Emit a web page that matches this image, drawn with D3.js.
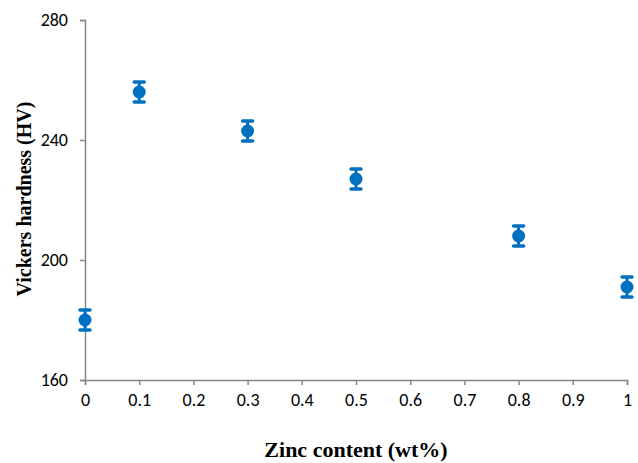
<!DOCTYPE html>
<html>
<head>
<meta charset="utf-8">
<script src="https://cdn.jsdelivr.net/npm/d3@7"></script>
<style>
  body { margin: 0; background: #fff; }
  svg { display: block; }
</style>
</head>
<body>
<div id="chart"></div>
<script>
// ── Data ──────────────────────────────────────────────────────────────────
const zinc     = [0, 0.1, 0.3, 0.5, 0.8, 1];
const hardness = [180, 256, 243, 227, 208, 191];
const errors   = [3.3, 3.3, 3.3, 3.3, 3.3, 3.3];
const xTicks   = [0, 0.1, 0.2, 0.3, 0.4, 0.5, 0.6, 0.7, 0.8, 0.9, 1];
const yTicks   = [160, 200, 240, 280];

const W = 638, H = 463;
const M = { top: 20, right: 11, bottom: 83, left: 85 };
const iw = W - M.left - M.right;
const ih = H - M.top - M.bottom;
const BLUE = '#0070C0';
const AXIS = '#868686';

const x = d3.scaleLinear().domain([0, 1]).range([0, iw]);
const y = d3.scaleLinear().domain([160, 280]).range([ih, 0]);

const svg = d3.select('#chart').append('svg').attr('width', W).attr('height', H);
const g = svg.append('g').attr('transform', `translate(${M.left},${M.top})`);

// ── Axes ──────────────────────────────────────────────────────────────────
const tickFont = a => a.selectAll('text')
  .attr('font-family', 'Carlito, Lato, "Open Sans", sans-serif')
  .attr('font-size', 18).attr('fill', '#000');

g.append('g').attr('transform', `translate(0,${ih})`)
  .call(d3.axisBottom(x).tickValues(xTicks).tickSize(5).tickPadding(8).tickFormat(d3.format('~g')))
  .call(a => a.selectAll('.domain, line').attr('stroke', AXIS).attr('stroke-width', 1.5))
  .call(tickFont);

g.append('g')
  .call(d3.axisLeft(y).tickValues(yTicks).tickSize(5).tickPadding(12))
  .call(a => a.selectAll('.domain, line').attr('stroke', AXIS).attr('stroke-width', 1.5))
  .call(tickFont);

// ── Error bars + points ───────────────────────────────────────────────────
const pts = zinc.map((z, i) => ({ z, v: hardness[i], e: errors[i] }));
const pg = g.append('g');

pts.forEach(d => {
  const cx = x(d.z);
  pg.append('line')
    .attr('x1', cx).attr('x2', cx)
    .attr('y1', y(d.v - d.e)).attr('y2', y(d.v + d.e))
    .attr('stroke', BLUE).attr('stroke-width', 3);
  [d.v - d.e, d.v + d.e].forEach(v => pg.append('line')
    .attr('x1', cx - 5).attr('x2', cx + 5)
    .attr('y1', y(v)).attr('y2', y(v))
    .attr('stroke', BLUE).attr('stroke-width', 3.5).attr('stroke-linecap', 'round'));
  pg.append('circle')
    .attr('cx', cx).attr('cy', y(d.v)).attr('r', 6.5)
    .attr('fill', BLUE);
});

// ── Axis titles ───────────────────────────────────────────────────────────
const serif = '"Liberation Serif", "Times New Roman", serif';
svg.append('text')
  .attr('x', M.left + iw / 2).attr('y', 457)
  .attr('text-anchor', 'middle')
  .attr('font-family', serif).attr('font-weight', 'bold').attr('font-size', 22)
  .text('Zinc content (wt%)');

svg.append('text')
  .attr('transform', `translate(31,199) rotate(-90)`)
  .attr('text-anchor', 'middle')
  .attr('font-family', serif).attr('font-weight', 'bold').attr('font-size', 20)
  .text('Vickers hardness (HV)');
</script>
</body>
</html>
